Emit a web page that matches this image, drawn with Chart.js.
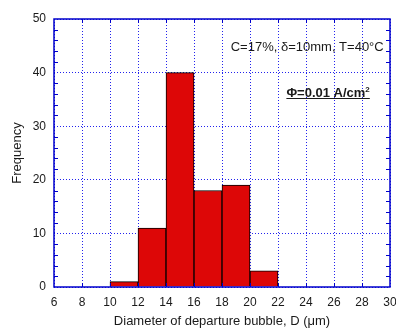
<!DOCTYPE html>
<html>
<head>
<meta charset="utf-8">
<script src="https://cdn.jsdelivr.net/npm/chart.js@4/dist/chart.umd.min.js"></script>
<style>
html, body { margin: 0; padding: 0; background: #fff; overflow: hidden; }
#wrap { width: 396px; height: 329px; }
</style>
</head>
<body>
<div id="wrap"><canvas id="chart" width="396" height="329"></canvas></div>
<script>
// histogram bins (centre of each 2 um bin) and counts
const binCenters = [11, 13, 15, 17, 19, 21]
const counts = [1, 11, 40, 18, 19, 3]

// axis ranges / ticks
const xMin = 6, xMax = 30, xStep = 2
const yMin = 0, yMax = 50, yStep = 10, yMinorStep = 2

const xTitle = 'Diameter of departure bubble, D (\u03bcm)'
const yTitle = 'Frequency'
const conditionText = 'C=17%, \u03b4=10mm, T=40\u00b0C'
const fluxText = '\u03a6=0.01 A/cm'
const fluxSup = '2'

const axisBlue = '#0000cc'
const gridBlue = '#2222ee'
const barRed = '#dd0707'
const textCol = '#1a1a1a'
const fontFam = '"Liberation Sans", Arial, sans-serif'

// frame, small ticks and the text notes
const framePlugin = {
    id: 'frame',
    afterDraw(chart) {
        const { ctx, chartArea: a, scales: { x, y } } = chart
        ctx.save()
        ctx.strokeStyle = axisBlue
        ctx.lineWidth = 1.5
        ctx.strokeRect(a.left, a.top, a.right - a.left, a.bottom - a.top)

        ctx.lineWidth = 1
        ctx.beginPath()
        for (let v = yMin; v <= yMax; v += yMinorStep) {
            if (v % yStep === 0) continue
            const py = Math.round(y.getPixelForValue(v)) + 0.5
            ctx.moveTo(a.left, py)
            ctx.lineTo(a.left + 4, py)
            ctx.moveTo(a.right, py)
            ctx.lineTo(a.right - 4, py)
        }
        for (let v = xMin + xStep; v < xMax; v += xStep) {
            const px = Math.round(x.getPixelForValue(v)) + 0.5
            ctx.moveTo(px, a.bottom)
            ctx.lineTo(px, a.bottom - 4)
            ctx.moveTo(px, a.top)
            ctx.lineTo(px, a.top + 4)
        }
        ctx.stroke()

        // notes
        ctx.fillStyle = textCol
        ctx.font = '13px ' + fontFam
        ctx.textAlign = 'right'
        ctx.textBaseline = 'alphabetic'
        ctx.fillText(conditionText, x.getPixelForValue(29.55), y.getPixelForValue(44.1))

        ctx.font = 'bold 13px ' + fontFam
        ctx.textAlign = 'left'
        const fx = x.getPixelForValue(22.6)
        const fy = y.getPixelForValue(35.4)
        ctx.fillText(fluxText, fx, fy)
        const w = ctx.measureText(fluxText).width
        ctx.font = 'bold 8px ' + fontFam
        ctx.fillText(fluxSup, fx + w, fy - 5)
        const w2 = ctx.measureText(fluxSup).width
        ctx.strokeStyle = textCol
        ctx.lineWidth = 1
        ctx.beginPath()
        ctx.moveTo(fx, Math.round(fy) + 1.5)
        ctx.lineTo(fx + w + w2, Math.round(fy) + 1.5)
        ctx.stroke()
        ctx.restore()
    }
}

const cfChart = {
    type: 'bar',
    data: {
        datasets: [{
            data: binCenters.map((c, i) => ({ x: c, y: counts[i] })),
            backgroundColor: barRed,
            borderColor: '#000',
            borderWidth: 1,
            borderSkipped: 'bottom',
            barPercentage: 1,
            categoryPercentage: 1,
        }]
    },
    options: {
        responsive: false,
        animation: false,
        events: [],
        layout: { padding: { left: 0, right: 6, top: 19, bottom: 0 } },
        plugins: { legend: { display: false }, tooltip: { enabled: false } },
        scales: {
            x: {
                type: 'linear',
                offset: false,
                min: xMin, max: xMax,
                ticks: {
                    stepSize: xStep,
                    color: textCol,
                    font: { family: fontFam, size: 12 },
                    padding: 8,
                    maxRotation: 0,
                },
                grid: { color: gridBlue, lineWidth: 1, drawTicks: false, offset: false },
                border: { display: false, dash: [1, 2] },
                title: {
                    display: true, text: xTitle, color: textCol,
                    font: { family: fontFam, size: 13 },
                    padding: { top: 4, bottom: 0 }
                },
                afterFit(scale) {
                    scale.height = 42
                    scale.paddingRight = 0
                    scale.paddingLeft = 0
                }
            },
            y: {
                min: yMin, max: yMax,
                ticks: {
                    stepSize: yStep,
                    color: textCol,
                    font: { family: fontFam, size: 12 },
                    padding: 8,
                },
                grid: { color: gridBlue, lineWidth: 1, drawTicks: false },
                border: { display: false, dash: [1, 2] },
                title: {
                    display: true, text: yTitle, color: textCol,
                    font: { family: fontFam, size: 13 },
                    padding: { top: 10, bottom: 0 }
                },
                afterFit(scale) {
                    scale.width = 54
                }
            }
        }
    },
    plugins: [framePlugin]
}

new Chart(document.getElementById('chart').getContext('2d'), cfChart)
</script>
</body>
</html>
